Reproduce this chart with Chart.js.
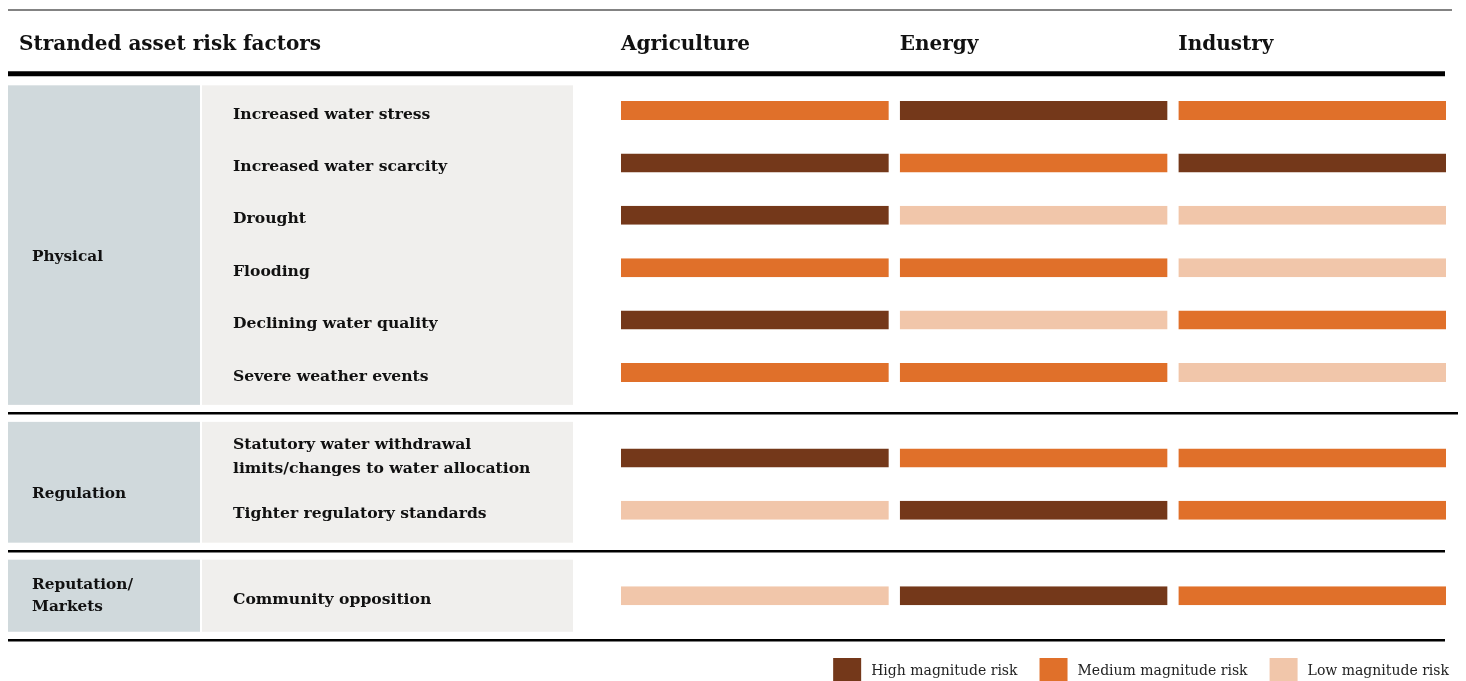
<!DOCTYPE html>
<html>
<head>
<meta charset="utf-8">
<script src="https://cdn.jsdelivr.net/npm/chart.js@4.4.1/dist/chart.umd.min.js"></script>
<style>
  html, body { margin: 0; padding: 0; background: #ffffff; }
  #wrap { width: 1466px; height: 681px; position: relative; }
</style>
</head>
<body>
<div id="wrap"><canvas id="c" width="1466" height="681"></canvas></div>
<script>
// ---- data ----
const title = 'Stranded asset risk factors';
const sectors = ['Agriculture', 'Energy', 'Industry'];
const factors = [
  'Increased water stress',
  'Increased water scarcity',
  'Drought',
  'Flooding',
  'Declining water quality',
  'Severe weather events',
  'Statutory water withdrawal\nlimits/changes to water allocation',
  'Tighter regulatory standards',
  'Community opposition'
];
const factorGroups = ['Physical', 'Physical', 'Physical', 'Physical', 'Physical', 'Physical',
  'Regulation', 'Regulation', 'Reputation/\nMarkets'];
const agriculture = ['Medium', 'High', 'High', 'Medium', 'High', 'Medium', 'High', 'Low', 'Low'];
const energy      = ['High', 'Medium', 'Low', 'Medium', 'Low', 'Medium', 'Medium', 'High', 'High'];
const industry    = ['Medium', 'High', 'Low', 'Low', 'Medium', 'Low', 'Medium', 'Medium', 'Medium'];
const riskLevels = ['High', 'Medium', 'Low'];
const legendLabels = ['High magnitude risk', 'Medium magnitude risk', 'Low magnitude risk'];

// ---- styles ----
const riskColors = { High: '#74381a', Medium: '#e0702a', Low: '#f1c6aa' };
const GROUP_GAP = 0.63;
const BOLD = '"DejaVu Serif", "Liberation Serif", serif';

const sectorLevels = [agriculture, energy, industry];

// row positions on the linear row axis (extra space between groups)
const rowPos = [];
factors.forEach((f, i) => {
  if (i === 0) rowPos.push(0);
  else rowPos.push(rowPos[i - 1] + 1 + (factorGroups[i] !== factorGroups[i - 1] ? GROUP_GAP : 0));
});

const groupNames = [];
factorGroups.forEach(g => { if (!groupNames.includes(g)) groupNames.push(g); });

const datasets = sectors.map((s, si) => ({
  label: s,
  data: factors.map((f, ri) => ({ x: [si, si + 1], y: rowPos[ri] })),
  backgroundColor: ctx => riskColors[sectorLevels[si][ctx.dataIndex]],
  borderColor: '#ffffff',
  borderWidth: { left: 0, top: 0, bottom: 0, right: 11 },
  borderSkipped: false,
  inflateAmount: 0,
  grouped: false,
  barThickness: 19
}));

function line(ctx, x1, x2, y, w, color) {
  ctx.save();
  ctx.strokeStyle = color; ctx.lineWidth = w;
  ctx.beginPath(); ctx.moveTo(x1, y); ctx.lineTo(x2, y); ctx.stroke();
  ctx.restore();
}
function multiText(ctx, text, x, yc, lh) {
  const lines = text.split('\n');
  const y0 = yc - (lines.length - 1) * lh / 2;
  lines.forEach((l, i) => ctx.fillText(l, x, y0 + i * lh));
}

const tablePlugin = {
  id: 'table',
  beforeDatasetsDraw(chart) {
    const { ctx } = chart;
    const xs = chart.scales.x, ys = chart.scales.y;
    ctx.save();
    // top rule
    line(ctx, 8, 1452, 10, 1.5, '#5a5a5a');
    // headers
    ctx.fillStyle = '#111111';
    ctx.textBaseline = 'middle';
    ctx.textAlign = 'left';
    ctx.font = 'bold 20px ' + BOLD;
    ctx.fillText(title, 19, 45);
    sectors.forEach((s, i) => ctx.fillText(s, xs.getPixelForValue(i), 45));
    const headerY = ys.getPixelForValue(-0.7);
    line(ctx, 8, 1445, headerY, 5, '#000000');

    // groups
    const sepYs = [];
    groupNames.forEach((g, gi) => {
      const idx = factorGroups.map((fg, i) => fg === g ? i : -1).filter(i => i >= 0);
      const first = idx[0], last = idx[idx.length - 1];
      const above = gi === 0 ? headerY : ys.getPixelForValue(rowPos[first] - 0.85);
      let below;
      if (gi === groupNames.length - 1) below = ys.getPixelForValue(rowPos[last] + 0.85);
      else {
        const nextFirst = factorGroups.indexOf(groupNames[gi + 1]);
        below = ys.getPixelForValue(rowPos[nextFirst] - 0.85);
      }
      sepYs.push(below);
      const top = above + (gi === 0 ? 11.5 : 8.5);
      const bottom = below - 8.5;
      ctx.fillStyle = '#d0d9dc';
      ctx.fillRect(8, top, 192, bottom - top);
      ctx.fillStyle = '#f0efed';
      ctx.fillRect(202, top, 371, bottom - top);
      ctx.fillStyle = '#111111';
      ctx.font = 'bold 15.3px ' + BOLD;
      const single = g.indexOf('\n') < 0;
      multiText(ctx, g, 32, (top + bottom) / 2 + (single ? 12 : 0), 22);
      ctx.font = 'bold 15.6px ' + BOLD;
      idx.forEach(i => {
        const lbl = factors[i];
        const two = lbl.indexOf('\n') >= 0;
        multiText(ctx, lbl, 233, ys.getPixelForValue(rowPos[i]) + (two ? -1 : 4), 24);
      });
    });
    sepYs.forEach((y, i) => {
      const right = i === 0 ? 1458 : 1445;
      line(ctx, 8, right, y, 2.5, '#000000');
    });

    // legend (right aligned)
    ctx.font = '14px "DejaVu Serif", "Liberation Serif", serif';
    let xr = 1449;
    const items = [];
    for (let i = riskLevels.length - 1; i >= 0; i--) {
      const tw = ctx.measureText(legendLabels[i]).width;
      const tx = xr - tw;
      const bx = tx - 38;
      items.push({ i, tx, bx });
      xr = bx - 22;
    }
    items.forEach(it => {
      ctx.fillStyle = riskColors[riskLevels[it.i]];
      ctx.fillRect(it.bx, 658, 28, 25);
      ctx.fillStyle = '#222222';
      ctx.fillText(legendLabels[it.i], it.tx, 671);
    });
    ctx.restore();
  }
};

new Chart(document.getElementById('c'), {
  type: 'bar',
  data: { labels: factors, datasets },
  options: {
    indexAxis: 'y',
    responsive: false,
    devicePixelRatio: 1,
    animation: false,
    events: [],
    layout: { padding: { left: 621, right: 9, top: 110.5 - 52.4, bottom: 681 - (110.5 + 52.4 * 10.5) } },
    scales: {
      x: { type: 'linear', min: 0, max: 3, display: false, offset: false },
      y: { type: 'linear', min: -1, max: 10.5, reverse: true, display: false, offset: false }
    },
    plugins: { legend: { display: false }, tooltip: { enabled: false } }
  },
  plugins: [tablePlugin]
});
</script>
</body>
</html>
